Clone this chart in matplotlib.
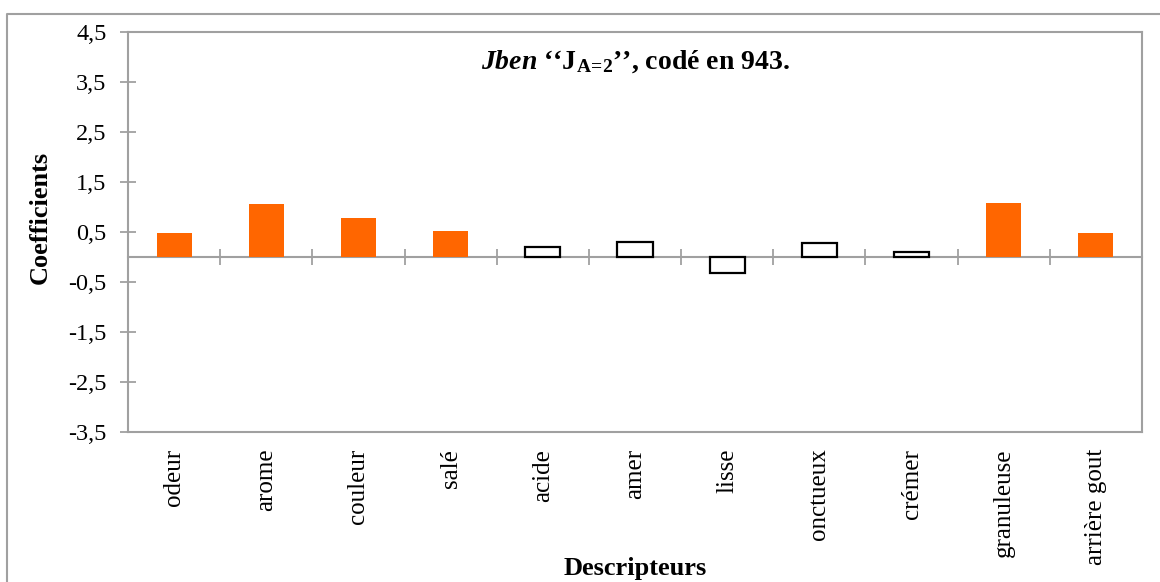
import matplotlib.pyplot as plt
from matplotlib.lines import Line2D

descripteurs = ["odeur", "arome", "couleur", "salé", "acide", "amer", "lisse",
                "onctueux", "crémer", "granuleuse", "arrière gout"]
coefficients = [0.48, 1.06, 0.78, 0.53, 0.21, 0.30, -0.32, 0.28, 0.11, 1.09, 0.48]
significatif = [True, True, True, True, False, False, False, False, False, True, True]
y_ticks = [-3.5, -2.5, -1.5, -0.5, 0.5, 1.5, 2.5, 3.5, 4.5]
y_labels = ["-3,5", "-2,5", "-1,5", "-0,5", "0,5", "1,5", "2,5", "3,5", "4,5"]

plt.rcParams['font.family'] = ['Liberation Serif', 'DejaVu Serif']
plt.rcParams['mathtext.fontset'] = 'custom'
plt.rcParams['mathtext.rm'] = 'Liberation Serif:bold'
plt.rcParams['mathtext.it'] = 'Liberation Serif:bold:italic'
plt.rcParams['mathtext.bf'] = 'Liberation Serif:bold'

gris = "#a0a0a0"
orange = "#ff6600"

fig = plt.figure(figsize=(11.6, 5.82), dpi=100)
ax = fig.add_axes([128/1160, 1-432/582, (1142-128)/1160, 400/582])

x = list(range(len(descripteurs)))
for xi, v, sig in zip(x, coefficients, significatif):
    if sig:
        ax.bar(xi, v, width=0.38, color=orange, edgecolor="none", zorder=3)
    else:
        ax.bar(xi, v, width=0.38, color="white", edgecolor="black", linewidth=1.6, zorder=3)

ax.set_xlim(-0.5, len(descripteurs) - 0.5)
ax.set_ylim(-3.5, 4.5)
ax.set_yticks(y_ticks)
ax.set_yticklabels(y_labels, fontsize=17.5)
ax.set_xticks(x)
ax.set_xticklabels(descripteurs, rotation=90, fontsize=18)
ax.tick_params(axis="x", length=0, pad=12)
ax.tick_params(axis="y", direction="inout", length=11, width=1.3, color=gris, pad=10)

for s in ax.spines.values():
    s.set_color(gris)
    s.set_linewidth(1.5)

# ligne zéro avec graduations entre catégories
sec = ax.secondary_xaxis(3.5/8)
sec.set_xticks([i - 0.5 for i in range(1, len(descripteurs))])
sec.set_xticklabels([])
sec.tick_params(direction="inout", length=11, width=1.3, color=gris)
sec.spines["bottom"].set_color(gris)
sec.spines["bottom"].set_linewidth(1.5)

ax.text(0.5, 0.925, r"$\mathit{Jben}$ ‘‘J$_{\mathrm{A\!=\!2}}$’’, codé en 943.",
        transform=ax.transAxes, ha="center", va="center", fontsize=20, fontweight="bold")

fig.text(40/1160, 1-217/582, "Coefficients", rotation=90, ha="center", va="center",
         fontsize=19, fontweight="bold")
fig.text(635/1160, 1-568/582, "Descripteurs", ha="center", va="center",
         fontsize=19, fontweight="bold")

# cadre extérieur
fig.add_artist(Line2D([7/1160, 7/1160, 1.0], [0.0, 1-14/582, 1-14/582],
                      transform=fig.transFigure, color=gris, linewidth=1.5))

fig.savefig("out.png", dpi=100)
